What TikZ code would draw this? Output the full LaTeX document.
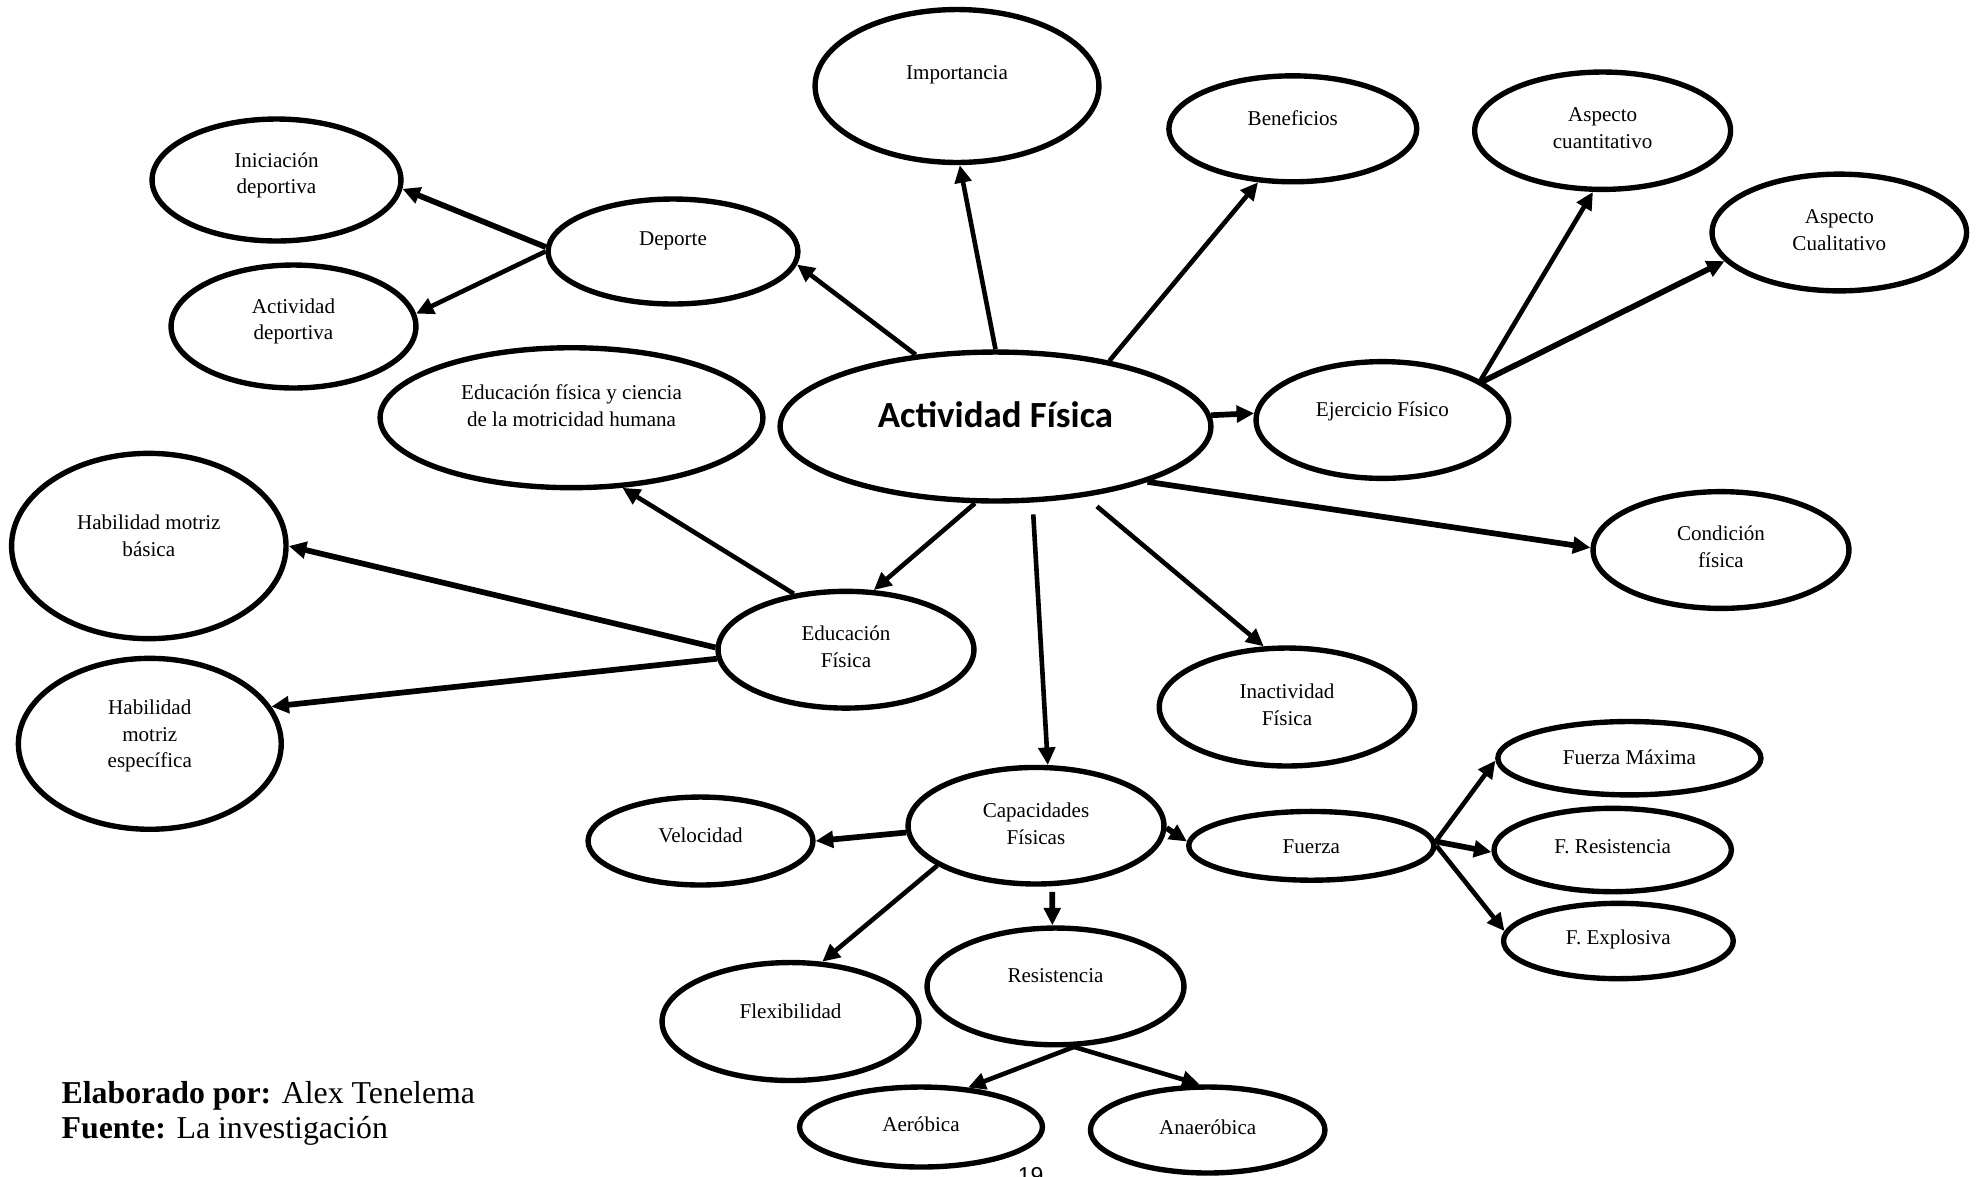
\documentclass[tikz,border=0pt]{standalone}
\usepackage{fontspec}
\setmainfont{Liberation Serif}
\newfontfamily\afont{Carlito}
\newfontfamily\pnfont{Liberation Sans}
\usetikzlibrary{shapes.geometric,arrows.meta}
\tikzset{
  oval/.style={draw=black, line width=2.45pt, ellipse, inner sep=0pt},
  txt/.style={align=center, inner sep=0pt, font=\fontsize{9.6}{12.2}\selectfont},
  arr/.style={line width=2.1pt, -{Triangle[length=8pt,width=7.5pt]}},
  arrb/.style={arr, line width=2.6pt},
}
% name, cx, cy, rx, ry, text y, text
\newcommand\ovalnode[7]{%
  \node[oval, minimum width={#4*0.032cm}, minimum height={#5*0.032cm}] (#1) at (#2,#3) {};
  \node[txt] (#1-t) at (#2,#6) {#7};
}
\begin{document}
\begin{tikzpicture}[x=0.016cm, y=-0.016cm]
\useasboundingbox (0,0) rectangle (1983,1176);
\fill[white] (0,0) rectangle (1983,1176);
\clip (0,0) rectangle (1983,1176);

\ovalnode{imp}{957}{86}{142}{76.5}{74.6}{Importancia}
\ovalnode{ben}{1292.8}{128.8}{124}{53}{118.6}{Beneficios}
\ovalnode{acu}{1602.6}{130.7}{128}{58.7}{128.2}{Aspecto\\cuantitativo}
\ovalnode{acl}{1839.3}{232.5}{127.3}{58.4}{229.8}{Aspecto\\Cualitativo}
\ovalnode{ini}{276.5}{180}{124.5}{61}{175.5}{Iniciación\\deportiva}
\ovalnode{dep}{673}{251.5}{125}{52.5}{241}{Deporte}
\ovalnode{ade}{293.5}{326.5}{122.5}{61.5}{321.5}{Actividad\\deportiva}
\ovalnode{efc}{571.5}{417.7}{191.5}{70}{405.5}{Educación física y ciencia\\de la motricidad humana}
\node[oval, minimum width={215.5*0.032cm}, minimum height={74.5*0.032cm}] (af) at (995.5,426.5) {};
\node[font=\afont\bfseries\fontsize{16.8}{20}\selectfont, anchor=base, inner sep=0pt] (af-t) at (995.5,427.9) {Actividad Física};
\ovalnode{ejf}{1382.4}{420}{126.4}{58.4}{411.4}{Ejercicio Físico}
\ovalnode{hmb}{148.8}{546}{137.3}{92.7}{536}{Habilidad motriz\\básica}
\ovalnode{edf}{846}{649.7}{128}{58.4}{646.4}{Educación\\Física}
\ovalnode{con}{1721}{550}{128}{58.4}{546.8}{Condición\\física}
\ovalnode{hme}{149.8}{743.8}{131.5}{85.5}{736}{Habilidad\\motriz\\específica}
\ovalnode{ina}{1287}{707}{127.8}{59}{704.6}{Inactividad\\Física}
\ovalnode{cap}{1036}{825.7}{128}{58.3}{823.8}{Capacidades\\Físicas}
\ovalnode{vel}{700.5}{841}{112.5}{44}{835.5}{Velocidad}
\ovalnode{fue}{1311.3}{845.8}{122.6}{34.4}{846.6}{Fuerza}
\ovalnode{fma}{1629.4}{758.2}{131.6}{36.7}{757}{Fuerza Máxima}
\ovalnode{fre}{1612.7}{850}{118.7}{41.7}{846.6}{F. Resistencia}
\ovalnode{fex}{1618.4}{941}{114.9}{37.7}{939.6}{F. Explosiva}
\ovalnode{res}{1055.5}{986.4}{128.5}{58.4}{975.9}{Resistencia}
\ovalnode{fle}{790.5}{1021.5}{128.5}{59}{1011}{Flexibilidad}
\ovalnode{aer}{921}{1127}{121.5}{40}{1124.4}{Aeróbica}
\ovalnode{ana}{1207.7}{1130}{117.3}{43}{1127}{Anaeróbica}

% connectors
\draw[arr] (af.138.4) -- (dep.-6.3);
\draw[arr] (af.90.4) -- (imp.-88.9);
\draw[arr] (af.30.6) -- (ben.-123.8);
\draw[arrb] (af.3) -- (ejf.177.7);
\draw[arrb] (af.-20.35) -- (con.179.6);
\draw[arr, shorten <=0.24cm] (af.-38.8) -- (ina.111.1);
\draw[arr, shorten <=0.19cm] (af.-64.4) -- (cap.79.5);
\draw[arr] (af.-105.5) -- (edf.65.2);
\draw[arr] (edf.133.5) -- (efc.-54.9);
\draw[arrb] (edf.179.6) -- (hmb.-0.4);
\draw[arrb] (edf.-176.5) -- (hme.17.5);
\draw[arrb] (dep.178) -- (ini.-4.4);
\draw[arr] (dep.180.5) -- (ade.6.8);
\draw[arr] (ejf.22.7) -- (acu.-99);
\draw[arrb] (ejf.21.4) -- (acl.-166.1);
\draw[arrb] (cap.-177.4) -- (vel.0);
\draw[arrb] (cap.-1.7) -- (fue.178.5);
\draw[arrb, shorten <=0.09cm] (cap.-75.7) -- (res.93);
\draw[arr] (cap.-158.4) -- (fle.62.2);
\draw[arr] (fue.2.7) -- (fma.-179.6);
\draw[arrb] (fue.2.3) -- (fre.-179.6);
\draw[arr] (fue.0) -- (fex.175.5);
\draw[arr] (res.-73.6) -- (aer.40.4);
\draw[arr] (res.-73.6) -- (ana.100.1);

% footer
\node[anchor=base west, inner sep=0pt, font=\fontsize{14.5}{16}\selectfont] (foot1) at (61.2,1103.4) {\textbf{Elaborado por:} Alex Tenelema};
\node[anchor=base west, inner sep=0pt, font=\fontsize{14.5}{16}\selectfont] (foot2) at (61.2,1138.6) {\textbf{Fuente:} La investigación};
\node[anchor=north, inner sep=0pt, font=\pnfont\fontsize{10.5}{12}\selectfont] (pagenum) at (1030.7,1167) {19};
\end{tikzpicture}
\end{document}
